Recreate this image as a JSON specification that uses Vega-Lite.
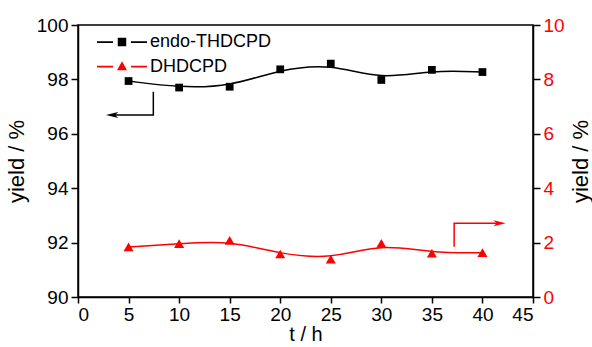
{
  "$schema": "https://vega.github.io/schema/vega-lite/v6.json",
  "width": 455,
  "height": 272,
  "autosize": {"type": "none"},
  "padding": {"left": 78, "top": 25, "right": 59, "bottom": 50},
  "background": "white",
  "config": {
    "view": {"stroke": "black", "strokeWidth": 1.5},
    "font": "Liberation Sans",
    "axis": {
      "grid": false,
      "domainColor": "black",
      "domainWidth": 1.5,
      "tickColor": "black",
      "tickWidth": 1.5,
      "labelFont": "Liberation Sans",
      "labelFontSize": 19,
      "labelColor": "black",
      "titleFont": "Liberation Sans",
      "titleFontSize": 21,
      "titleFontWeight": "normal",
      "titleColor": "black"
    }
  },
  "datasets": {
    "main": [
      {"t": 5, "series": "endo-THDCPD", "y": 97.94},
      {"t": 10, "series": "endo-THDCPD", "y": 97.70},
      {"t": 15, "series": "endo-THDCPD", "y": 97.73},
      {"t": 20, "series": "endo-THDCPD", "y": 98.37},
      {"t": 25, "series": "endo-THDCPD", "y": 98.58},
      {"t": 30, "series": "endo-THDCPD", "y": 97.98},
      {"t": 35, "series": "endo-THDCPD", "y": 98.35},
      {"t": 40, "series": "endo-THDCPD", "y": 98.27},
      {"t": 5, "series": "DHDCPD", "y": 1.84},
      {"t": 10, "series": "DHDCPD", "y": 1.96},
      {"t": 15, "series": "DHDCPD", "y": 2.08},
      {"t": 20, "series": "DHDCPD", "y": 1.58},
      {"t": 25, "series": "DHDCPD", "y": 1.39},
      {"t": 30, "series": "DHDCPD", "y": 1.97},
      {"t": 35, "series": "DHDCPD", "y": 1.61},
      {"t": 40, "series": "DHDCPD", "y": 1.63}
    ],
    "arrows": [
      {"arrow": "left", "i": 0, "t": 7.45, "y": 97.55},
      {"arrow": "left", "i": 1, "t": 7.45, "y": 96.69},
      {"arrow": "left", "i": 2, "t": 3.37, "y": 96.69},
      {"arrow": "right", "i": 0, "t": 37.2, "y": 1.85},
      {"arrow": "right", "i": 1, "t": 37.2, "y": 2.71},
      {"arrow": "right", "i": 2, "t": 41.7, "y": 2.71}
    ]
  },
  "layer": [
    {
      "layer": [
        {
          "data": {"name": "main"},
          "transform": [{"filter": "datum.series === 'endo-THDCPD'"}],
          "mark": {"type": "line", "interpolate": "basis", "color": "black", "strokeWidth": 1.5},
          "encoding": {
            "x": {
              "field": "t", "type": "quantitative",
              "scale": {"domain": [0, 45], "nice": false, "zero": false},
              "axis": {
                "title": "t / h",
                "titleFontSize": 20,
                "values": [0, 2.5, 5, 7.5, 10, 12.5, 15, 17.5, 20, 22.5, 25, 27.5, 30, 32.5, 35, 37.5, 40, 42.5, 45],
                "labelExpr": "datum.value % 5 === 0 ? datum.label : ''",
                "tickSize": {"condition": {"test": "datum.value % 5 === 0", "value": 6}, "value": 3},
                "labelPadding": 2,
                "titlePadding": 0
              }
            },
            "y": {
              "field": "y", "type": "quantitative",
              "scale": {"domain": [90, 100], "nice": false, "zero": false},
              "axis": {
                "orient": "left",
                "title": "yield / %",
                "titleFontSize": 22,
                "values": [90, 91, 92, 93, 94, 95, 96, 97, 98, 99, 100],
                "labelExpr": "datum.value % 2 === 0 ? datum.label : ''",
                "tickSize": {"condition": {"test": "datum.value % 2 === 0", "value": 7}, "value": 4},
                "labelPadding": 3,
                "titlePadding": 8
              }
            }
          }
        },
        {
          "data": {"name": "main"},
          "transform": [{"filter": "datum.series === 'endo-THDCPD'"}],
          "mark": {"type": "point", "filled": true, "opacity": 1, "size": 60, "shape": "square", "color": "black"},
          "encoding": {
            "x": {"field": "t", "type": "quantitative"},
            "y": {"field": "y", "type": "quantitative"}
          }
        },
        {
          "data": {"name": "main"},
          "transform": [{"filter": "datum.series === 'endo-THDCPD'"}],
          "mark": {"type": "point", "filled": true, "opacity": 0, "size": 0},
          "encoding": {
            "x": {"field": "t", "type": "quantitative"},
            "y": {"field": "y", "type": "quantitative"},
            "color": {
              "field": "series", "type": "nominal",
              "scale": {"domain": ["endo-THDCPD", "DHDCPD"], "range": ["black", "red"]},
              "legend": {
                "title": null,
                "orient": "none",
                "legendX": 19,
                "legendY": 7,
                "padding": 0,
                "rowPadding": 4.5,
                "clipHeight": 20,
                "symbolSize": 2500,
                "symbolOpacity": 1,
                "symbolStrokeWidth": 0,
                "labelFont": "Liberation Sans",
                "labelFontSize": 18,
                "labelColor": "black",
                "labelOffset": 3
              }
            },
            "shape": {
              "field": "series", "type": "nominal",
              "scale": {
                "domain": ["endo-THDCPD", "DHDCPD"],
                "range": [
                  "M-1,-0.035H-0.36V0.035H-1Z M-0.17,-0.17H0.17V0.17H-0.17Z M0.36,-0.035H1V0.035H0.36Z",
                  "M-1,-0.035H-0.36V0.035H-1Z M0,-0.21L0.2,0.15L-0.2,0.15Z M0.36,-0.035H1V0.035H0.36Z"
                ]
              },
              "legend": {
                "title": null,
                "orient": "none",
                "legendX": 19,
                "legendY": 7,
                "padding": 0,
                "rowPadding": 4.5,
                "clipHeight": 20,
                "symbolSize": 2500,
                "symbolOpacity": 1,
                "symbolStrokeWidth": 0,
                "labelFont": "Liberation Sans",
                "labelFontSize": 18,
                "labelColor": "black",
                "labelOffset": 3
              }
            }
          }
        },
        {
          "data": {"name": "arrows"},
          "transform": [{"filter": "datum.arrow === 'left'"}],
          "mark": {"type": "line", "color": "black", "strokeWidth": 1.5},
          "encoding": {
            "x": {"field": "t", "type": "quantitative"},
            "y": {"field": "y", "type": "quantitative"},
            "order": {"field": "i", "type": "quantitative"}
          }
        },
        {
          "data": {"name": "arrows"},
          "transform": [{"filter": "datum.arrow === 'left' && datum.i === 2"}],
          "mark": {"type": "point", "filled": true, "opacity": 1, "color": "black", "size": 150, "shape": "M-1,0L1,-0.5L0.5,0L1,0.5Z"},
          "encoding": {
            "x": {"field": "t", "type": "quantitative"},
            "y": {"field": "y", "type": "quantitative"}
          }
        }
      ]
    },
    {
      "layer": [
        {
          "data": {"name": "main"},
          "transform": [{"filter": "datum.series === 'DHDCPD'"}],
          "mark": {"type": "line", "interpolate": "basis", "color": "red", "strokeWidth": 1.5},
          "encoding": {
            "x": {"field": "t", "type": "quantitative"},
            "y": {
              "field": "y", "type": "quantitative",
              "scale": {"domain": [0, 10], "nice": false, "zero": false},
              "axis": {
                "orient": "right",
                "title": "yield / %",
                "titleFontSize": 22,
                "titleAngle": 270,
                "values": [0, 1, 2, 3, 4, 5, 6, 7, 8, 9, 10],
                "labelExpr": "datum.value % 2 === 0 ? datum.label : ''",
                "tickSize": {"condition": {"test": "datum.value % 2 === 0", "value": 7}, "value": 4},
                "labelColor": "red",
                "labelPadding": 3,
                "titlePadding": 28
              }
            }
          }
        },
        {
          "data": {"name": "main"},
          "transform": [{"filter": "datum.series === 'DHDCPD'"}],
          "mark": {"type": "point", "filled": true, "opacity": 1, "size": 100, "shape": "triangle-up", "color": "red"},
          "encoding": {
            "x": {"field": "t", "type": "quantitative"},
            "y": {"field": "y", "type": "quantitative"}
          }
        },
        {
          "data": {"name": "arrows"},
          "transform": [{"filter": "datum.arrow === 'right'"}],
          "mark": {"type": "line", "color": "red", "strokeWidth": 1.5},
          "encoding": {
            "x": {"field": "t", "type": "quantitative"},
            "y": {"field": "y", "type": "quantitative"},
            "order": {"field": "i", "type": "quantitative"}
          }
        },
        {
          "data": {"name": "arrows"},
          "transform": [{"filter": "datum.arrow === 'right' && datum.i === 2"}],
          "mark": {"type": "point", "filled": true, "opacity": 1, "color": "red", "size": 150, "shape": "M1,0L-1,-0.5L-0.5,0L-1,0.5Z"},
          "encoding": {
            "x": {"field": "t", "type": "quantitative"},
            "y": {"field": "y", "type": "quantitative"}
          }
        }
      ]
    }
  ],
  "resolve": {"scale": {"y": "independent"}, "axis": {"y": "independent"}}
}
